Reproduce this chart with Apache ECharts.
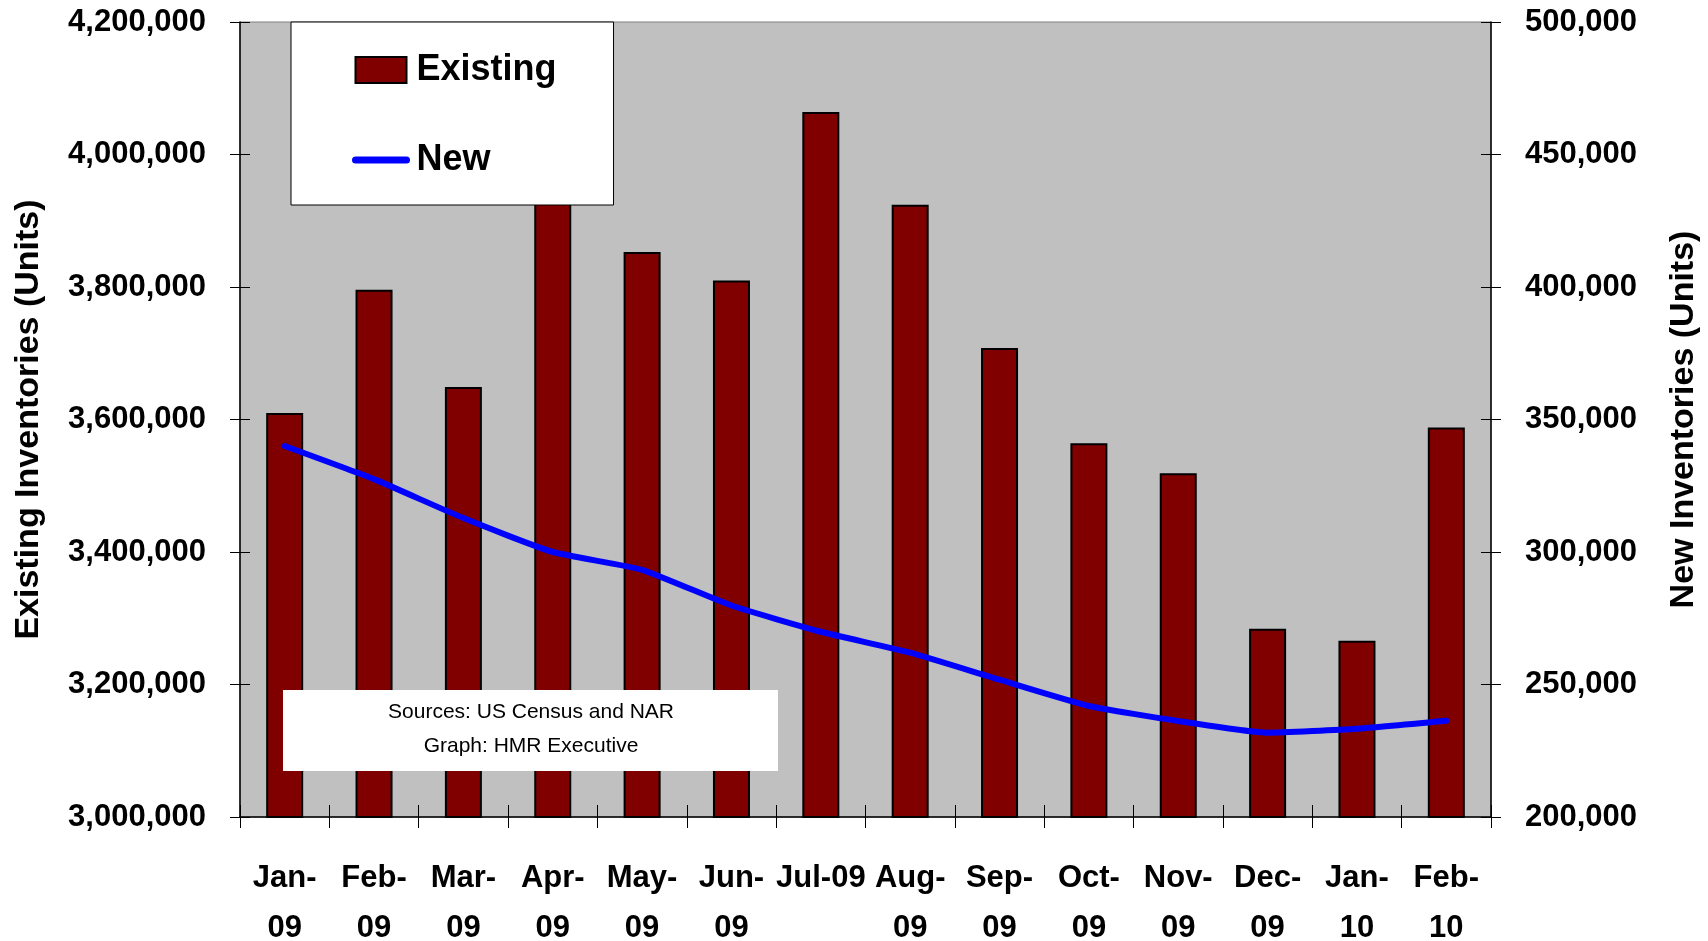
<!DOCTYPE html>
<html>
<head>
<meta charset="utf-8">
<script src="https://cdn.jsdelivr.net/npm/echarts@6/dist/echarts.min.js"></script>
<style>
  html, body { margin: 0; padding: 0; background: #ffffff; }
  #chart { width: 1708px; height: 941px; }
</style>
</head>
<body>
<div id="chart"></div>
<script>
// Monthly housing inventories, Jan 2009 - Feb 2010
const months = ['Jan-09', 'Feb-09', 'Mar-09', 'Apr-09', 'May-09', 'Jun-09', 'Jul-09',
                'Aug-09', 'Sep-09', 'Oct-09', 'Nov-09', 'Dec-09', 'Jan-10', 'Feb-10'];
const monthLabels = ['Jan-\n09', 'Feb-\n09', 'Mar-\n09', 'Apr-\n09', 'May-\n09', 'Jun-\n09', 'Jul-09',
                     'Aug-\n09', 'Sep-\n09', 'Oct-\n09', 'Nov-\n09', 'Dec-\n09', 'Jan-\n10', 'Feb-\n10'];
// Existing homes for sale (units)
const existing = [3610000, 3796000, 3649000, 3970000, 3853000, 3810000, 4064000,
                  3924000, 3708000, 3564000, 3519000, 3284000, 3266000, 3588000];
// New homes for sale (units)
const newHomes = [340000, 327500, 312800, 300000, 293300, 279800, 269900,
                  262000, 251800, 241900, 236200, 231800, 233300, 236300];
// Axis ranges: [min, max, step]
const existingRange = [3000000, 4200000, 200000];
const newRange = [200000, 500000, 50000];
// Source note lines
const sourceLines = ['Sources: US Census and NAR', 'Graph: HMR Executive'];

const sans = '"Liberation Sans", Arial, sans-serif';
const fmt = v => Math.round(v).toLocaleString('en-US');

const chart = echarts.init(document.getElementById('chart'), null, { renderer: 'canvas' });

const tickStyle = { color: '#000000', width: 1 };

chart.setOption({
  animation: false,
  backgroundColor: '#ffffff',
  grid: {
    left: 240, right: 217, top: 22, bottom: 124,
    outerBoundsMode: 'none', containLabel: false,
    show: true, backgroundColor: '#C0C0C0', borderColor: '#808080', borderWidth: 1
  },
  legend: {
    orient: 'vertical',
    left: 291, top: 22,
    padding: [23, 57, 20, 61],
    itemGap: 40,
    itemWidth: 51, itemHeight: 26,
    backgroundColor: '#ffffff',
    borderColor: '#000000', borderWidth: 1, borderRadius: 0,
    textStyle: { fontFamily: sans, fontWeight: 'bold', fontSize: 36, color: '#000', lineHeight: 50, padding: [0, 0, 0, 5] },
    data: [
      { name: 'Existing', icon: 'rect' },
      {
        name: 'New',
        itemStyle: { opacity: 0 },
        lineStyle: { color: '#0000FF', width: 7, cap: 'round' }
      }
    ],
    z: 20
  },
  xAxis: [
    {
      type: 'category', data: months, boundaryGap: true,
      axisLine: { show: true, lineStyle: { color: '#000', width: 1.5 } },
      axisTick: { show: true, inside: false, length: 11, lineStyle: tickStyle },
      axisLabel: {
        formatter: (v, i) => monthLabels[i],
        fontFamily: sans, fontWeight: 'bold', fontSize: 31, color: '#000',
        lineHeight: 50, margin: 36, interval: 0
      },
      splitLine: { show: false }
    },
    {
      type: 'category', data: months, boundaryGap: true, position: 'bottom',
      axisLine: { show: false },
      axisTick: { show: true, inside: true, length: 12, lineStyle: tickStyle },
      axisLabel: { show: false },
      splitLine: { show: false }
    }
  ],
  yAxis: [
    {
      type: 'value', position: 'left',
      min: existingRange[0], max: existingRange[1], interval: existingRange[2],
      name: 'Existing Inventories (Units)', nameLocation: 'middle', nameRotate: 90, nameGap: 194,
      nameTextStyle: { fontFamily: sans, fontWeight: 'bold', fontSize: 34, color: '#000' },
      axisLine: { show: true, lineStyle: { color: '#000', width: 1.5 } },
      axisTick: { show: true, inside: false, length: 10, lineStyle: tickStyle },
      axisLabel: { formatter: fmt, fontFamily: sans, fontWeight: 'bold', fontSize: 31, color: '#000', margin: 34 },
      splitLine: { show: false }
    },
    {
      type: 'value', position: 'right',
      min: newRange[0], max: newRange[1], interval: newRange[2],
      name: 'New Inventories (Units)', nameLocation: 'middle', nameRotate: 90, nameGap: 176,
      nameTextStyle: { fontFamily: sans, fontWeight: 'bold', fontSize: 34, color: '#000' },
      axisLine: { show: true, lineStyle: { color: '#000', width: 1.5 } },
      axisTick: { show: true, inside: false, length: 10, lineStyle: tickStyle },
      axisLabel: { formatter: fmt, fontFamily: sans, fontWeight: 'bold', fontSize: 31, color: '#000', margin: 34 },
      splitLine: { show: false }
    },
    {
      type: 'value', position: 'left',
      min: existingRange[0], max: existingRange[1], interval: existingRange[2],
      axisLine: { show: false },
      axisTick: { show: true, inside: true, length: 10, lineStyle: tickStyle },
      axisLabel: { show: false }, splitLine: { show: false }
    },
    {
      type: 'value', position: 'right',
      min: newRange[0], max: newRange[1], interval: newRange[2],
      axisLine: { show: false },
      axisTick: { show: true, inside: true, length: 10, lineStyle: tickStyle },
      axisLabel: { show: false }, splitLine: { show: false }
    }
  ],
  series: [
    {
      name: 'Existing', type: 'bar', xAxisIndex: 0, yAxisIndex: 0,
      data: existing, barWidth: 37,
      itemStyle: { color: '#800000', borderColor: '#000000', borderWidth: 2 },
      z: 2
    },
    {
      name: 'New', type: 'line', xAxisIndex: 0, yAxisIndex: 1,
      data: newHomes, smooth: 0.15, symbol: 'none',
      lineStyle: { color: '#0000FF', width: 6, cap: 'round', join: 'round' },
      itemStyle: { color: '#0000FF' },
      z: 3
    }
  ],
  graphic: [
    {
      type: 'rect', z: 50,
      shape: { x: 283, y: 690, width: 495, height: 81 },
      style: { fill: '#ffffff' }
    },
    {
      type: 'text', z: 51, x: 531, y: 712,
      style: {
        text: sourceLines[0], fill: '#000', fontSize: 21, fontFamily: sans,
        align: 'center', verticalAlign: 'middle'
      }
    },
    {
      type: 'text', z: 51, x: 531, y: 746,
      style: {
        text: sourceLines[1], fill: '#000', fontSize: 21, fontFamily: sans,
        align: 'center', verticalAlign: 'middle'
      }
    }
  ]
});
</script>
</body>
</html>
